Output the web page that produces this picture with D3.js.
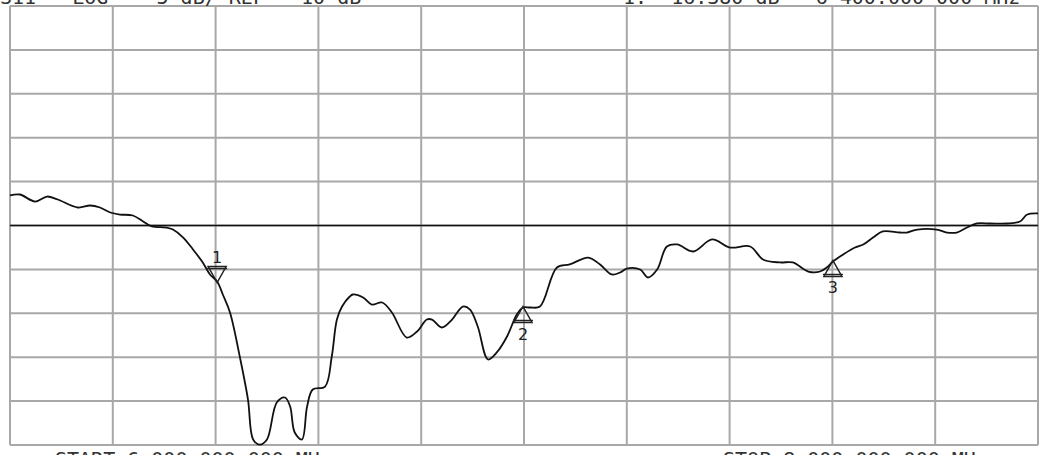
<!DOCTYPE html>
<html>
<head>
<meta charset="utf-8">
<script src="https://cdn.jsdelivr.net/npm/d3@7"></script>
<style>
  body { margin: 0; background: #fff; }
  svg { display: block; }
</style>
</head>
<body>
<div id="chart"></div>
<script>
// sweep data, frequency in MHz and S11 in dB
var freqs = [6000, 6019, 6049, 6072, 6093, 6132, 6156, 6175, 6195, 6214, 6239, 6259, 6276, 6305, 6317,
  6337, 6356, 6375, 6389, 6403, 6414, 6428, 6447, 6463, 6473, 6486, 6500, 6519, 6535, 6545, 6554,
  6568, 6578, 6589, 6613, 6626, 6636, 6646, 6661, 6667, 6687, 6704, 6724, 6743, 6772, 6792, 6811,
  6821, 6840, 6860, 6881, 6895, 6910, 6930, 6947, 6967, 6986, 6998, 7012, 7031, 7064, 7089, 7125,
  7148, 7171, 7187, 7200, 7226, 7241, 7259, 7278, 7298, 7329, 7366, 7401, 7440, 7465, 7498, 7523,
  7553, 7576, 7589, 7601, 7621, 7644, 7660, 7679, 7698, 7731, 7745, 7765, 7803, 7823, 7842, 7862,
  7881, 7907, 7940, 7965, 7979, 8000];
var s11 = [-6.58, -6.47, -7.27, -6.70, -7.04, -7.95, -7.72, -7.95, -8.52, -8.75, -8.86, -9.54, -10.11, -10.23, -10.46,
  -11.37, -12.73, -14.21, -15.58, -16.38, -17.86, -19.91, -24.92, -29.82, -34.37, -34.95, -34.37, -30.16, -29.59, -30.62, -33.58,
  -34.37, -30.62, -28.68, -28.34, -24.92, -20.71, -19.23, -18.09, -17.86, -18.20, -19.00, -18.77, -19.91, -22.76, -22.07, -20.71,
  -20.71, -21.62, -20.71, -19.23, -19.57, -21.50, -25.26, -24.46, -22.64, -20.14, -19.34, -19.34, -19.23, -14.78, -14.44, -13.65,
  -14.44, -15.58, -15.35, -14.90, -15.01, -15.92, -15.01, -12.39, -12.16, -12.96, -11.59, -12.51, -12.39, -13.87, -14.21, -14.21,
  -15.24, -15.24, -14.78, -14.10, -13.30, -12.51, -12.16, -11.37, -10.68, -10.80, -10.80, -10.46, -10.46, -10.80, -10.80, -10.23,
  -9.77, -9.77, -9.77, -9.54, -8.75, -8.63];

// markers
var markerIds = ["1", "2", "3"];
var markerFreqs = [6403, 6998, 7601];
var markerVals = [-16.38, -19.34, -14.10];
var markerDirs = ["down", "up", "up"];

// analyzer settings
var startFreq = 6000;
var stopFreq = 8000;
var refLevel = -10;
var dbPerDiv = 5;
var divs = 10;
var headerLeft = "S11   LOG    5 dB/ REF  -10 dB";
var headerRight = "1: -16.380 dB   6 400.000 000 MHz";
var footerLeft = "START 6 000.000 000 MHz";
var footerRight = "STOP 8 000.000 000 MHz";

var width = 1040, height = 455;
var margin = { top: 6, right: 2, bottom: 10, left: 10 };

var svg = d3.select("#chart").append("svg")
  .attr("width", width)
  .attr("height", height);

var x = d3.scaleLinear()
  .domain([startFreq, stopFreq])
  .range([margin.left, width - margin.right]);

var y = d3.scaleLinear()
  .domain([refLevel - dbPerDiv * divs / 2, refLevel + dbPerDiv * divs / 2])
  .range([height - margin.bottom, margin.top]);

var xTicks = d3.range(divs + 1).map(function (i) { return startFreq + (stopFreq - startFreq) * i / divs; });
var yTicks = d3.range(divs + 1).map(function (i) { return y.domain()[0] + dbPerDiv * i; });

// grid
var grid = svg.append("g").attr("stroke", "#a8a8a8").attr("stroke-width", 2);
xTicks.forEach(function (t) {
  grid.append("line")
    .attr("x1", x(t)).attr("x2", x(t))
    .attr("y1", y.range()[1]).attr("y2", y.range()[0]);
});
yTicks.forEach(function (t) {
  grid.append("line")
    .attr("x1", x.range()[0]).attr("x2", x.range()[1])
    .attr("y1", y(t)).attr("y2", y(t));
});

// reference line
svg.append("line")
  .attr("x1", x.range()[0]).attr("x2", x.range()[1])
  .attr("y1", y(refLevel)).attr("y2", y(refLevel))
  .attr("stroke", "#111")
  .attr("stroke-width", 1.6);

// trace
var points = freqs.map(function (f, i) { return [f, s11[i]]; });
var line = d3.line()
  .x(function (d) { return x(d[0]); })
  .y(function (d) { return y(d[1]); })
  .curve(d3.curveCatmullRom.alpha(0.5));

svg.append("path")
  .datum(points)
  .attr("d", line)
  .attr("fill", "none")
  .attr("stroke", "#111")
  .attr("stroke-width", 1.8);

// markers
markerIds.forEach(function (id, i) {
  var mx = x(markerFreqs[i]);
  var my = y(markerVals[i]);
  var g = svg.append("g").attr("stroke", "#222").attr("stroke-width", 1.5).attr("fill", "none");
  var s = markerDirs[i] == "down" ? -1 : 1;
  var h = 16, w = 9;
  var tip = my - s * 1;
  g.append("path")
    .attr("d", "M" + mx + "," + tip +
      "L" + (mx - w) + "," + (tip + s * h) +
      "L" + (mx + w) + "," + (tip + s * h) + "Z");
  g.append("line")
    .attr("x1", mx - w - 1).attr("x2", mx + w + 1)
    .attr("y1", tip + s * (h - 2)).attr("y2", tip + s * (h - 2));
  svg.append("text")
    .attr("x", mx)
    .attr("y", s < 0 ? tip - h - 4 : tip + h + 17)
    .attr("text-anchor", "middle")
    .attr("font-family", "DejaVu Sans")
    .attr("font-size", 16)
    .attr("fill", "#222")
    .text(id);
});

// header and footer text, cut by the page edge as in the original
var textStyle = function (sel) {
  sel.attr("font-family", "DejaVu Sans Mono")
    .attr("font-size", 20)
    .attr("fill", "#333")
    .attr("xml:space", "preserve")
    .style("white-space", "pre");
};
svg.append("text").attr("x", 0).attr("y", 4).text(headerLeft).call(textStyle);
svg.append("text").attr("x", 623).attr("y", 4).text(headerRight).call(textStyle);
svg.append("text").attr("x", 55).attr("y", 466).text(footerLeft).call(textStyle);
svg.append("text").attr("x", 723).attr("y", 466).text(footerRight).call(textStyle);
</script>
</body>
</html>
